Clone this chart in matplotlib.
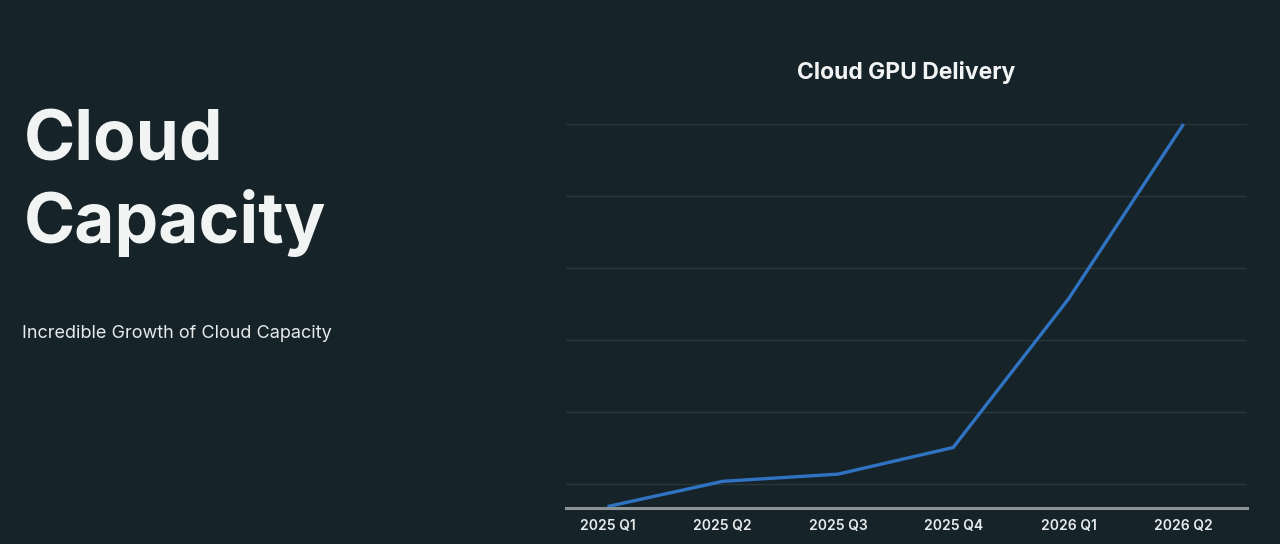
import matplotlib
matplotlib.use("Agg")
import matplotlib.pyplot as plt

# data (grid units, one unit per gridline)
quarters = ["2025 Q1", "2025 Q2", "2025 Q3", "2025 Q4", "2026 Q1", "2026 Q2"]
delivery = [0.69, 1.04, 1.14, 1.51, 3.57, 6.0]
grid_levels = [1, 2, 3, 4, 5, 6]

BG = "#162328"
LINE = "#2f73c2"
TEXT = "#f2f4f4"

plt.rcParams["font.family"] = ["Inter", "DejaVu Sans"]

fig = plt.figure(figsize=(12.8, 5.44), dpi=100, facecolor=BG)

# left-hand slide text
fig.text(24 / 1280, 1 - 160 / 544, "Cloud", fontsize=50, fontweight="bold",
         color=TEXT, va="baseline", ha="left")
fig.text(24 / 1280, 1 - 243 / 544, "Capacity", fontsize=50, fontweight="bold",
         color=TEXT, va="baseline", ha="left")
fig.text(22 / 1280, 1 - 338 / 544, "Incredible Growth of Cloud Capacity",
         fontsize=13, color="#e6eaeb", va="baseline", ha="left")

ax = fig.add_axes([566 / 1280, 1 - 508 / 544, (1247 - 566) / 1280, (508 - 124) / 544])
ax.set_facecolor(BG)

for g in grid_levels:
    ax.axhline(g, color="#2a373c", lw=1.0, zorder=1)

x = list(range(len(quarters)))
ax.plot(x, delivery, color=LINE, lw=2.4, solid_capstyle="butt",
        solid_joinstyle="miter", zorder=3, clip_on=False)

ax.set_xlim(-0.36, 5.55)
ax.set_ylim(0.67, 6.0)
ax.set_yticks([])
ax.set_xticks(x)
ax.set_xticklabels(quarters, fontsize=10, fontweight="semibold", color="#e8ecec")
ax.tick_params(axis="x", length=0, pad=8)

for side in ("top", "right", "left"):
    ax.spines[side].set_visible(False)
ax.spines["bottom"].set_color("#8b9397")
ax.spines["bottom"].set_linewidth(2.2)
ax.spines["bottom"].set_zorder(4)

fig.text(906 / 1280, 1 - 79 / 544, "Cloud GPU Delivery", fontsize=16.5,
         fontweight="bold", color=TEXT, ha="center", va="baseline")

fig.savefig("out.png", dpi=100, facecolor=BG)
